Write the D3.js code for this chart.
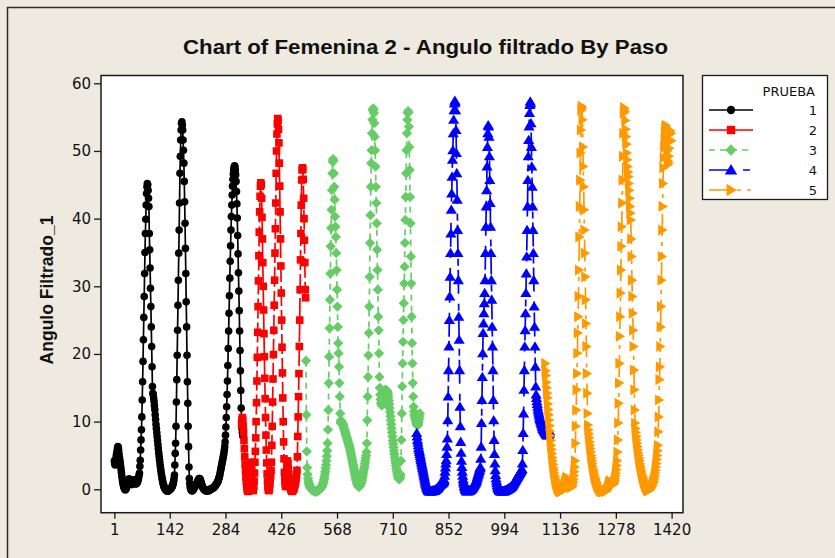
<!DOCTYPE html>
<html>
<head>
<meta charset="utf-8">
<script src="https://cdn.jsdelivr.net/npm/d3@7"></script>
<style>
  html, body { margin: 0; padding: 0; background: #EEEAE0; }
  svg { display: block; }
</style>
</head>
<body>
<svg id="chart" width="835" height="558"></svg>
<script>
// ---- data: Angulo Filtrado_1 by Paso, one block of steps per PRUEBA ----
const xTicks = [1, 142, 284, 426, 568, 710, 852, 994, 1136, 1278, 1420];
const yTicks = [0, 10, 20, 30, 40, 50, 60];
const pruebas = ["1", "2", "3", "4", "5"];
const pasoStart = [1, 325, 489, 771, 1098];

const prueba1 = [
  4.2,3.8,3.6,4.0,4.5,5.0,5.3,5.7,6.1,6.3,6.2,5.8,5.2,4.7,4.3,3.9,3.4,3.0,2.5,2.0,1.6,1.2,
  0.9,0.6,0.4,0.2,0.1,0.0,-0.1,0.0,0.1,0.3,0.5,0.8,1.0,1.2,1.4,1.5,1.5,1.4,1.3,1.1,0.9,0.8,0.7,0.7,0.8,0.9,1.1,1.3,1.4,1.3,1.2,1.0,0.9,0.8,0.8,0.9,1.0,1.1,1.3,1.5,1.8,2.1,
  2.4,3.4,4.3,5.8,7.3,8.8,10.7,13.2,15.9,18.9,22.1,25.4,28.5,31.9,35.0,37.8,39.9,42.0,43.7,44.7,45.2,45.0,44.2,43.0,41.8,
  37.8,35.4,32.7,29.7,27.0,24.0,21.1,18.1,15.2,14.2,
  14.0,13.5,13.0,12.4,11.8,11.0,10.3,9.6,9.0,8.4,7.8,7.2,6.6,6.0,5.4,4.9,4.4,3.9,3.4,3.0,2.6,2.2,1.8,1.5,1.2,0.9,0.7,0.5,0.3,0.2,0.1,0.0,-0.1,-0.1,
  -0.2,-0.2,-0.3,-0.3,-0.2,-0.2,-0.1,-0.1,0.0,0.0,0.1,0.1,0.2,0.3,0.4,0.5,0.7,0.9,1.2,1.6,
  2.1,3.6,5.3,6.8,9.3,12.9,16.2,19.8,23.5,27.2,30.9,34.9,38.3,42.3,46.7,49.2,51.6,53.1,54.1,54.3,
  53.8,53.1,51.6,50.1,48.2,45.5,42.5,39.3,35.6,31.9,27.7,24.0,19.8,15.9,12.7,9.3,6.3,3.3,1.6,0.9,0.4,0.1,
  0.0,-0.1,-0.2,-0.2,-0.2,-0.1,0.0,0.1,0.2,0.3,0.4,0.5,0.6,0.7,0.8,0.9,1.0,1.1,1.3,1.4,
  1.5,1.6,1.6,1.5,1.4,1.2,1.0,0.8,0.6,0.4,0.3,0.2,0.1,0.0,0.0,-0.1,-0.1,-0.2,-0.2,-0.2,
  -0.2,-0.2,-0.2,-0.1,-0.1,
  -0.2,-0.2,-0.1,-0.1,0.0,0.0,0.0,0.1,0.1,0.1,0.1,0.2,0.2,0.3,0.3,0.4,0.5,0.5,0.6,0.7,
  0.8,0.9,1.0,1.1,1.2,1.4,1.6,1.8,2.0,2.3,
  2.6,2.9,3.2,3.5,3.8,4.1,4.4,4.7,5.0,5.4,5.8,6.3,
  7.0,8.0,9.2,10.6,12.2,14.0,16.0,18.3,20.8,23.4,26.0,28.6,31.2,33.7,36.0,38.3,40.3,42.0,43.5,44.8,45.8,46.6,47.2,47.6,47.8,47.7,
  47.2,46.5,45.5,44.0,42.2,40.1,37.5,34.8,32.0,29.3,26.4,23.4,20.5,17.5,14.6,12.0,10.0,9.0,8.4,8.0,7.8
];

const prueba2 = [
  9.5,10.3,10.6,10.2,9.4,8.4,7.2,6.0,4.8,3.7,2.7,1.8,1.1,0.5,0.1,-0.2,
  -0.3,-0.3,-0.1,0.4,1.2,
  2.2,3.3,4.0,3.6,2.5,1.3,
  0.5,0.0,-0.2,-0.1,0.4,1.2,2.4,
  4.0,5.6,7.6,10.0,12.8,16.0,19.5,23.2,27.0,30.8,34.5,38.0,41.0,43.3,44.8,
  45.3,45.0,
  43.0,40.2,37.0,33.5,30.0,26.5,23.0,19.6,16.4,13.4,10.6,8.0,5.8,3.9,2.3,
  1.2,0.4,0.0,-0.2,-0.1,0.3,0.8,1.4,2.0,2.8,
  4.0,6.5,9.3,12.9,16.3,19.9,23.5,27.2,30.9,34.9,38.5,42.3,46.7,50.0,
  52.5,54.0,54.8,54.5,
  53.2,51.2,48.2,44.8,41.0,37.0,33.0,29.0,25.0,21.0,17.2,13.5,10.0,7.0,4.5,2.5,
  1.4,0.8,0.4,1.0,2.0,3.0,3.8,4.2,3.8,3.0,2.2,1.5,1.0,0.6,0.3,0.1,-0.1,-0.2,-0.3,-0.3,
  -0.2,-0.1,0.0,0.1,0.3,0.5,0.7,1.0,1.3,1.7,2.2,2.8,
  4.8,7.8,10.7,13.7,17.1,21.1,25.0,29.5,33.9,37.8,42.0,45.7,47.2,
  47.5,47.3,
  45.8,43.0,40.0,36.8,33.5,29.5,28.3
];

const prueba3 = [
  19.0,11.0,5.6,3.2,2.2,1.6,1.2,0.9,0.7,0.5,0.4,0.3,0.2,0.1,0.0,0.0,-0.1,-0.1,-0.2,-0.2,
  -0.2,-0.3,-0.3,-0.3,-0.3,-0.3,-0.3,-0.3,-0.2,-0.2,-0.2,-0.2,-0.1,-0.1,0.0,0.0,0.1,0.1,0.2,0.3,
  0.4,0.5,0.6,0.8,1.0,1.2,1.5,1.8,2.2,2.6,3.1,3.6,4.2,4.9,5.7,
  6.8,8.8,11.7,15.7,19.6,23.8,28.0,31.9,35.9,38.6,41.3,44.2,46.7,48.4,
  48.8,48.6,
  46.7,44.7,42.8,40.3,38.8,37.3,34.9,32.4,29.5,27.0,24.0,21.6,20.1,18.1,15.7,13.7,11.2,9.8,
  10.2,10.0,9.9,9.8,9.7,
  9.6,9.4,9.2,9.0,8.8,8.6,8.4,8.2,8.0,7.8,7.6,7.4,7.2,7.0,6.8,6.6,6.4,6.2,6.0,5.7,
  5.4,5.1,4.8,4.5,4.2,3.9,3.6,3.3,3.0,2.7,2.4,2.1,1.8,1.5,1.3,1.1,0.9,0.7,0.6,0.5,
  0.4,0.4,0.4,0.5,0.6,0.7,0.9,1.1,1.3,1.6,1.9,2.2,2.5,2.8,3.1,3.4,3.8,4.2,4.6,5.0,5.5,
  6.8,10.2,13.7,16.6,19.8,23.1,27.0,31.4,36.4,40.5,44.7,48.2,50.1,52.6,54.6,56.0,
  56.3,56.1,
  55.6,54.1,52.1,50.1,47.7,44.7,42.3,39.3,35.4,32.4,29.5,25.5,23.5,20.1,16.6,
  15.0,14.0,13.3,12.8,12.5,12.4,12.5,12.8,13.2,13.6,14.0,14.3,14.5,14.6,
  14.7,14.7,14.6,14.6,14.5,
  14.5,14.3,14.0,13.6,13.1,12.6,
  12.0,11.4,10.8,10.2,9.6,9.0,8.4,7.8,7.2,6.7,6.2,5.7,5.2,4.7,4.3,3.9,3.5,3.1,2.8,2.5,
  2.2,2.0,1.8,1.6,1.5,1.5,1.6,1.8,2.2,
  4.2,7.3,11.2,15.2,18.6,21.8,25.0,27.5,30.4,32.9,36.4,39.8,43.2,46.7,50.1,52.6,54.6,55.6,
  55.9,55.7,
  53.6,50.6,47.2,43.2,39.3,34.4,30.4,25.5,21.6,18.6,15.7,13.7,12.2,
  11.5,11.0,10.8,10.5,10.3,10.0,9.8,9.6,9.5,9.4,9.5,9.7,10.0,10.4,10.8,11.2
];

const prueba4 = [
  8.3,7.8,7.3,6.9,6.5,6.1,5.8,5.5,5.2,4.9,4.6,4.3,4.0,3.7,3.4,3.1,2.8,2.5,2.2,1.9,
  1.6,1.3,1.0,0.8,0.6,0.4,0.2,0.1,0.0,-0.1,-0.2,-0.3,-0.3,-0.3,-0.3,-0.3,-0.3,
  -0.3,-0.3,-0.3,-0.3,-0.2,-0.2,-0.2,
  -0.2,-0.2,-0.2,
  -0.1,-0.1,0.0,0.0,0.1,0.1,0.2,0.2,0.3,0.4,0.5,0.6,0.6,0.7,0.7,0.8,0.8,0.9,0.9,1.0,1.0,1.1,1.2,
  1.4,2.0,2.6,3.2,3.8,4.3,5.2,6.3,7.5,10.2,13.7,17.6,21.1,25.0,28.5,31.4,34.9,37.8,41.3,43.7,
  46.2,48.7,50.1,52.6,54.6,56.0,
  57.0,57.4,57.2,
  56.0,53.1,49.7,46.7,42.8,38.3,34.9,30.9,25.5,22.1,17.6,12.2,9.3,
  7.0,5.4,4.2,3.3,2.6,2.0,1.5,1.1,0.8,0.5,0.3,0.1,0.0,-0.1,-0.2,-0.3,-0.3,-0.3,-0.3,-0.3,
  -0.2,-0.2,-0.2,-0.2,-0.1,-0.1,-0.1,0.0,0.1,0.1,0.2,0.3,0.4,
  0.5,0.6,0.7,0.8,0.9,1.0,1.1,1.3,1.5,1.7,1.9,2.1,2.3,2.5,2.7,2.9,3.1,3.3,
  4.5,6.3,9.8,13.2,16.6,20.1,23.1,24.5,26.0,27.5,29.0,30.9,34.9,38.8,41.8,44.2,47.7,50.6,52.6,
  53.8,53.6,
  52.1,49.2,45.7,42.3,38.8,34.9,30.9,28.0,24.0,21.1,17.6,13.2,10.2,7.3,
  5.2,3.8,2.8,2.1,1.6,1.2,0.9,0.6,0.4,0.2,0.1,0.0,-0.1,-0.2,-0.2,-0.3,-0.3,-0.3,-0.3,-0.3,
  -0.3,-0.3,-0.3,-0.3,-0.3,-0.3,-0.2,-0.2,-0.2,-0.2,-0.1,-0.1,-0.1,0.0,0.0,0.0,0.1,0.1,0.1,0.2,
  0.2,0.3,0.3,0.4,0.4,0.5,0.6,0.7,0.8,0.9,1.0,1.1,1.2,1.3,1.4,1.5,1.6,1.7,1.8,1.9,
  2.0,2.1,2.2,2.3,2.4,2.5,2.6,2.7,2.8,2.9,3.0,
  3.8,5.8,8.3,11.2,14.7,17.6,21.1,23.5,26.0,29.0,31.9,34.4,38.3,41.8,45.7,49.2,51.6,53.6,55.6,56.8,
  57.3,57.0,
  54.1,50.6,47.7,44.7,41.8,38.3,34.9,30.9,27.0,24.0,21.1,18.1,15.2,
  14.0,13.5,13.0,12.6,12.2,11.8,11.5,11.2,10.9,10.6,10.4,10.2,10.0,9.8,9.6,9.4,9.2,9.0,8.9,8.8,
  8.7,8.6,8.5,8.4,8.3,8.2,8.1,8.1,8.0,8.0,8.0,8.0,8.1,8.2,8.3,8.5
];

const prueba5 = [
  18.6,17.5,16.8,15.8,15.0,14.2,13.5,12.6,11.8,11.0,10.2,9.4,8.6,7.9,7.2,6.5,5.9,5.3,4.7,4.2,
  3.7,3.2,2.8,2.4,2.0,1.7,1.4,1.1,0.8,0.6,0.4,0.2,0.1,0.0,-0.1,-0.2,
  -0.2,-0.3,-0.3,-0.3,-0.3,-0.3,-0.2,-0.2,-0.1,0.0,0.1,0.3,0.5,0.7,0.9,1.1,1.3,1.5,1.6,1.7,
  1.7,1.6,1.5,1.3,1.1,0.9,0.7,0.5,0.4,0.3,0.3,0.3,0.4,0.6,0.8,1.1,1.5,2.0,2.6,3.3,
  4.2,6.8,9.3,11.7,14.7,17.1,20.1,23.1,25.5,28.5,32.4,37.3,41.8,45.7,49.7,53.1,56.0,
  56.6,56.3,
  54.6,50.6,47.7,44.7,41.3,38.3,34.9,31.4,28.0,24.5,21.1,17.1,14.2,11.2,
  9.5,8.8,8.2,7.6,7.0,6.5,6.0,5.5,5.0,4.6,4.2,3.8,3.4,3.0,2.7,2.4,2.1,1.8,1.6,1.4,
  1.2,1.0,0.8,0.6,0.5,0.4,0.3,0.2,0.1,0.0,-0.1,-0.2,-0.2,-0.3,-0.3,
  -0.3,-0.3,-0.3,-0.3,-0.2,-0.2,-0.2,-0.2,
  -0.3,-0.3,-0.3,-0.2,-0.2,
  -0.1,0.0,0.2,0.4,0.6,0.8,1.0,1.1,1.2,1.2,1.1,1.0,0.9,0.8,0.7,0.7,0.7,0.8,0.9,1.1,
  1.3,1.6,2.0,2.4,2.9,3.5,4.2,
  5.5,7.3,9.8,12.7,15.7,18.6,22.6,25.5,29.0,32.4,35.9,38.8,42.3,45.7,49.2,52.6,55.6,
  56.4,56.2,
  55.8,54.5,53.2,52.1,51.0,49.7,48.7,47.7,46.9,46.2,45.2,44.2,43.0,41.8,40.8,39.8,37.0,34.4,30.9,28.5,
  26.0,23.5,21.1,17.6,14.7,11.7,9.8,
  9.0,8.4,7.8,7.3,6.8,6.3,5.8,5.4,5.0,4.6,4.2,3.8,3.5,3.2,2.9,2.6,2.3,2.0,1.8,1.6,
  1.4,1.2,1.0,0.8,0.6,0.4,0.3,0.2,0.1,0.0,-0.1,-0.2,
  -0.2,-0.2,-0.1,-0.1,0.0,0.0,0.1,0.2,0.3,0.4,0.5,0.6,0.8,1.0,1.2,1.4,1.7,2.0,2.4,2.8,
  3.3,3.8,4.4,5.0,5.7,6.5,
  8.5,10.7,13.2,16.2,18.1,21.1,24.0,27.0,30.9,34.4,38.3,41.8,45.2,47.5,
  49.0,50.5,51.8,52.8,53.5,53.8,53.5,52.8,51.5,50.0,48.6,48.0,48.3,49.2,50.4,51.6,52.5,53.0,52.6,51.5
];

const seriesValues = [prueba1, prueba2, prueba3, prueba4, prueba5];

// ---- appearance ----
const colors = ["#000000", "#FF0000", "#66CC66", "#0000FF", "#FF9900"];
const dashes = [null, "20,4", "6,5", "24,10,7,4", "22,6,4,6,4,6"];
const shapes = ["circle", "square", "diamond", "triangle", "triangleRight"];

function symbolPath(kind, s) {
  switch (kind) {
    case "circle":
      return `M${s},0A${s},${s} 0 1,1 ${-s},0A${s},${s} 0 1,1 ${s},0Z`;
    case "square":
      return `M${-s},${-s}H${s}V${s}H${-s}Z`;
    case "diamond": {
      const d = s * 1.35;
      return `M0,${-d}L${d},0L0,${d}L${-d},0Z`;
    }
    case "triangle": {
      const h = s * 1.4;
      return `M0,${-h}L${h * 1.05},${h * 0.75}L${-h * 1.05},${h * 0.75}Z`;
    }
    case "triangleRight": {
      const h = s * 1.4;
      return `M${h},0L${-h * 0.75},${-h * 1.05}L${-h * 0.75},${h * 1.05}Z`;
    }
  }
}

const svg = d3.select("#chart");
const W = 835, H = 558;

// graph background and window border
svg.append("rect").attr("width", W).attr("height", H).attr("fill", "#EEEAE0");
svg.append("path")
  .attr("d", `M7.5,${H}V7.5H${W}`)
  .attr("fill", "none").attr("stroke", "#2b2b2b").attr("stroke-width", 1.5);

const x = d3.scaleLinear().domain([-33, 1449]).range([101, 683]);
const y = d3.scaleLinear().domain([-3.46, 61.15]).range([512.7, 75.5]);

const [x0, x1] = x.range();
const [yb, yt] = y.range();

// data region
svg.append("rect")
  .attr("x", x0).attr("y", yt)
  .attr("width", x1 - x0).attr("height", yb - yt)
  .attr("fill", "#FFFFFF");

const clipId = "plotclip";
svg.append("clipPath").attr("id", clipId)
  .append("rect").attr("x", x0).attr("y", yt).attr("width", x1 - x0).attr("height", yb - yt);

const plot = svg.append("g").attr("clip-path", `url(#${clipId})`);

const line = d3.line().x(d => x(d[0])).y(d => y(d[1]));

seriesValues.forEach((vals, i) => {
  const pts = vals.map((v, k) => [pasoStart[i] + k, v]);
  const g = plot.append("g").attr("class", "prueba-" + pruebas[i]);
  g.append("path")
    .attr("d", line(pts))
    .attr("fill", "none")
    .attr("stroke", colors[i])
    .attr("stroke-width", 1.7)
    .attr("stroke-dasharray", dashes[i]);
  g.selectAll("path.m")
    .data(pts)
    .join("path")
    .attr("class", "m")
    .attr("transform", d => `translate(${x(d[0])},${y(d[1])})`)
    .attr("d", symbolPath(shapes[i], 3.8))
    .attr("fill", colors[i]);
});

// frame
svg.append("rect")
  .attr("x", x0).attr("y", yt)
  .attr("width", x1 - x0).attr("height", yb - yt)
  .attr("fill", "none").attr("stroke", "#1a1a1a").attr("stroke-width", 1.5);

// axes
const tickFont = "'DejaVu Sans', Verdana, sans-serif";
const yAxis = svg.append("g")
  .attr("transform", `translate(${x0},0)`)
  .call(d3.axisLeft(y).tickValues(yTicks).tickSize(7).tickPadding(3).tickFormat(d3.format("d")));
const xAxis = svg.append("g")
  .attr("transform", `translate(0,${yb})`)
  .call(d3.axisBottom(x).tickValues(xTicks).tickSize(6).tickPadding(6).tickFormat(d3.format("d")));

[yAxis, xAxis].forEach(a => {
  a.select(".domain").remove();
  a.selectAll(".tick line").attr("stroke", "#1a1a1a").attr("stroke-width", 1.3);
  a.selectAll(".tick text")
    .attr("fill", "#111")
    .style("font-family", tickFont)
    .style("font-size", "15px");
});

// title
svg.append("text")
  .attr("x", 425.5).attr("y", 54)
  .attr("text-anchor", "middle")
  .attr("textLength", 485)
  .attr("lengthAdjust", "spacingAndGlyphs")
  .style("font-family", "'Liberation Sans', Arial, sans-serif")
  .style("font-weight", "bold")
  .style("font-size", "21px")
  .attr("fill", "#111")
  .text("Chart of Femenina 2 - Angulo filtrado By Paso");

// y axis title
svg.append("text")
  .attr("transform", "translate(52.5,290) rotate(-90)")
  .attr("text-anchor", "middle")
  .style("font-family", "'Liberation Sans', Arial, sans-serif")
  .style("font-weight", "bold")
  .style("font-size", "17.5px")
  .attr("fill", "#111")
  .text("Angulo Filtrado_1");

// legend
const lg = svg.append("g");
lg.append("rect")
  .attr("x", 702.5).attr("y", 75.5).attr("width", 125).attr("height", 124)
  .attr("fill", "#FFFFFF").attr("stroke", "#1a1a1a").attr("stroke-width", 1.3);
lg.append("text")
  .attr("x", 815).attr("y", 95.5)
  .attr("text-anchor", "end")
  .style("font-family", tickFont).style("font-size", "13px").attr("fill", "#111")
  .text("PRUEBA");
pruebas.forEach((p, i) => {
  const cy = 110 + i * 20;
  lg.append("line")
    .attr("x1", 709).attr("x2", 753).attr("y1", cy).attr("y2", cy)
    .attr("stroke", colors[i]).attr("stroke-width", 1.6)
    .attr("stroke-dasharray", dashes[i]);
  lg.append("path")
    .attr("transform", `translate(731,${cy})`)
    .attr("d", symbolPath(shapes[i], 4.2))
    .attr("fill", colors[i]);
  lg.append("text")
    .attr("x", 817).attr("y", cy + 5)
    .attr("text-anchor", "end")
    .style("font-family", tickFont).style("font-size", "13px").attr("fill", "#111")
    .text(p);
});
</script>
</body>
</html>
